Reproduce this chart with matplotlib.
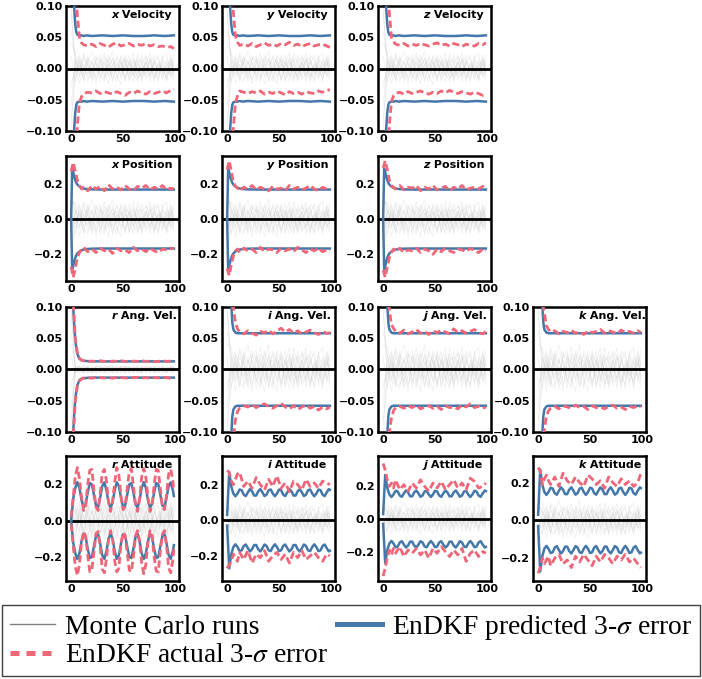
import numpy as np
import matplotlib
matplotlib.use('Agg')
import matplotlib.pyplot as plt
from matplotlib.lines import Line2D

plt.rcParams['font.family'] = 'DejaVu Sans'
plt.rcParams['mathtext.fontset'] = 'stix'

BLUE = '#4477AA'
RED = '#EE6677'

# ---- time grids ----
t_blue = [0, 1, 2, 3, 4, 5, 6, 8, 10, 12, 15, 20, 30, 40, 50, 60, 70, 80, 90, 99]
t_red = [0, 2, 4, 6, 8, 10, 12, 16, 20, 24, 28, 32, 36, 40, 44, 48, 52, 56, 60,
         64, 68, 72, 76, 80, 84, 88, 92, 96, 99]
t_att = list(range(0, 99, 2)) + [99]
t_mc = list(range(0, 97, 4)) + [99]

# ---- predicted 3-sigma (blue) ----
vel_blue = [0.40, 0.25, 0.14, 0.095, 0.07, 0.058, 0.054, 0.053, 0.053, 0.052, 0.053, 0.052,
            0.053, 0.052, 0.053, 0.052, 0.052, 0.053, 0.052, 0.053]
pos_blue = [0.0, 0.285, 0.265, 0.24, 0.22, 0.205, 0.195, 0.184, 0.177, 0.173, 0.170, 0.168,
            0.167, 0.167, 0.167, 0.167, 0.167, 0.167, 0.167, 0.167]
angr_blue = [0.40, 0.20, 0.10, 0.07, 0.048, 0.034, 0.025, 0.017, 0.015, 0.014, 0.0135, 0.013,
             0.013, 0.013, 0.013, 0.013, 0.013, 0.013, 0.013, 0.013]
angv_blue = [0.50, 0.35, 0.22, 0.15, 0.105, 0.075, 0.064, 0.059, 0.058, 0.058, 0.058, 0.058,
             0.058, 0.058, 0.058, 0.058, 0.058, 0.058, 0.058, 0.058]
attr_blue = [0.0, 0.12, 0.179, 0.21, 0.179, 0.113, 0.071, 0.091, 0.154, 0.205, 0.198, 0.14,
             0.082, 0.075, 0.126, 0.189, 0.209, 0.167, 0.101, 0.07, 0.101, 0.167, 0.209, 0.189,
             0.126, 0.075, 0.082, 0.14, 0.198, 0.205, 0.154, 0.091, 0.071, 0.113, 0.179, 0.21,
             0.179, 0.113, 0.071, 0.091, 0.154, 0.205, 0.198, 0.14, 0.082, 0.075, 0.126, 0.189,
             0.209, 0.167, 0.134]
att_blue = [0.03, 0.27, 0.19, 0.15, 0.135, 0.150, 0.173, 0.169, 0.144, 0.136, 0.157, 0.175,
            0.163, 0.139, 0.139, 0.163, 0.175, 0.157, 0.136, 0.144, 0.169, 0.173, 0.150, 0.135,
            0.150, 0.173, 0.169, 0.144, 0.136, 0.157, 0.175, 0.163, 0.139, 0.139, 0.163, 0.175,
            0.157, 0.136, 0.144, 0.169, 0.173, 0.150, 0.135, 0.150, 0.173, 0.169, 0.144, 0.136,
            0.157, 0.175, 0.171]

# ---- actual 3-sigma (red), upper and lower ----
velx_up = [0.40, 0.25, 0.15, 0.085, 0.05, 0.041, 0.038, 0.036, 0.039, 0.035, 0.040, 0.037, 0.034,
           0.039, 0.041, 0.036, 0.038, 0.040, 0.036, 0.039, 0.037, 0.040, 0.036, 0.038, 0.035,
           0.036, 0.034, 0.035, 0.032]
velx_lo = [-0.40, -0.30, -0.17, -0.09, -0.055, -0.045, -0.040, -0.038, -0.039, -0.036, -0.040,
           -0.037, -0.039, -0.041, -0.037, -0.040, -0.043, -0.038, -0.040, -0.036, -0.039, -0.041,
           -0.037, -0.040, -0.038, -0.036, -0.039, -0.035, -0.033]
vely_up = [0.40, 0.26, 0.16, 0.09, 0.052, 0.042, 0.037, 0.039, 0.036, 0.040, 0.035, 0.038, 0.041,
           0.037, 0.039, 0.036, 0.040, 0.038, 0.042, 0.037, 0.039, 0.035, 0.038, 0.040, 0.036,
           0.038, 0.039, 0.036, 0.034]
vely_lo = [-0.40, -0.28, -0.17, -0.095, -0.055, -0.044, -0.036, -0.038, -0.040, -0.037, -0.039,
           -0.036, -0.041, -0.038, -0.040, -0.036, -0.039, -0.042, -0.037, -0.040, -0.038, -0.041,
           -0.037, -0.039, -0.040, -0.036, -0.038, -0.035, -0.034]
velz_up = [0.40, 0.25, 0.15, 0.088, 0.05, 0.043, 0.039, 0.037, 0.040, 0.036, 0.039, 0.037, 0.040,
           0.038, 0.036, 0.039, 0.041, 0.037, 0.039, 0.036, 0.040, 0.038, 0.035, 0.039, 0.037,
           0.036, 0.040, 0.038, 0.041]
velz_lo = [-0.40, -0.27, -0.16, -0.09, -0.053, -0.044, -0.040, -0.038, -0.041, -0.037, -0.040,
           -0.038, -0.036, -0.039, -0.041, -0.038, -0.040, -0.036, -0.039, -0.035, -0.038, -0.040,
           -0.037, -0.039, -0.041, -0.038, -0.040, -0.043, -0.039]

posx_up = [0.27, 0.32, 0.27, 0.22, 0.19, 0.17, 0.18, 0.16, 0.19, 0.17, 0.185, 0.16, 0.195, 0.17,
           0.18, 0.165, 0.19, 0.17, 0.16, 0.185, 0.175, 0.19, 0.165, 0.18, 0.17, 0.19, 0.165,
           0.175, 0.17]
posx_lo = [-0.27, -0.33, -0.28, -0.22, -0.19, -0.175, -0.16, -0.185, -0.17, -0.19, -0.165, -0.18,
           -0.17, -0.195, -0.165, -0.18, -0.175, -0.19, -0.16, -0.18, -0.17, -0.185, -0.165,
           -0.18, -0.19, -0.17, -0.175, -0.165, -0.17]
posy_up = [0.28, 0.33, 0.27, 0.21, 0.185, 0.175, 0.16, 0.18, 0.17, 0.19, 0.165, 0.18, 0.17, 0.16,
           0.185, 0.17, 0.175, 0.16, 0.19, 0.17, 0.18, 0.165, 0.175, 0.19, 0.17, 0.16, 0.18,
           0.17, 0.165]
posy_lo = [-0.28, -0.32, -0.26, -0.21, -0.18, -0.17, -0.19, -0.165, -0.18, -0.17, -0.19, -0.16,
           -0.185, -0.17, -0.175, -0.19, -0.165, -0.18, -0.17, -0.185, -0.16, -0.175, -0.19,
           -0.17, -0.18, -0.165, -0.185, -0.175, -0.18]
posz_up = [0.29, 0.33, 0.28, 0.22, 0.19, 0.18, 0.17, 0.19, 0.165, 0.18, 0.175, 0.19, 0.16, 0.18,
           0.17, 0.19, 0.165, 0.175, 0.185, 0.16, 0.18, 0.17, 0.19, 0.165, 0.175, 0.18, 0.17,
           0.185, 0.17]
posz_lo = [-0.29, -0.33, -0.27, -0.22, -0.19, -0.17, -0.185, -0.165, -0.19, -0.175, -0.18, -0.165,
           -0.19, -0.17, -0.18, -0.2, -0.17, -0.185, -0.165, -0.18, -0.19, -0.17, -0.175, -0.185,
           -0.165, -0.18, -0.19, -0.17, -0.18]

angr_up = [0.40, 0.11, 0.05, 0.027, 0.018, 0.015, 0.014, 0.013, 0.0135, 0.013, 0.014, 0.013,
           0.0125, 0.0135, 0.013, 0.014, 0.013, 0.0125, 0.0135, 0.013, 0.014, 0.013, 0.0135,
           0.0125, 0.013, 0.014, 0.013, 0.0135, 0.013]
angr_lo = [-0.40, -0.11, -0.05, -0.027, -0.018, -0.015, -0.0135, -0.013, -0.014, -0.0125, -0.013,
           -0.0135, -0.013, -0.014, -0.0125, -0.013, -0.0135, -0.014, -0.013, -0.0125, -0.0135,
           -0.013, -0.014, -0.013, -0.0135, -0.0125, -0.013, -0.014, -0.013]
angi_up = [0.40, 0.25, 0.15, 0.10, 0.075, 0.065, 0.060, 0.057, 0.062, 0.058, 0.055, 0.061, 0.059,
           0.063, 0.057, 0.062, 0.066, 0.060, 0.064, 0.058, 0.062, 0.057, 0.060, 0.063, 0.059,
           0.056, 0.061, 0.058, 0.059]
angi_lo = [-0.40, -0.27, -0.16, -0.11, -0.08, -0.067, -0.062, -0.058, -0.060, -0.056, -0.061,
           -0.057, -0.055, -0.059, -0.062, -0.058, -0.054, -0.060, -0.063, -0.058, -0.064, -0.060,
           -0.057, -0.062, -0.059, -0.065, -0.060, -0.063, -0.060]
angj_up = [0.40, 0.24, 0.14, 0.095, 0.072, 0.066, 0.061, 0.058, 0.063, 0.057, 0.060, 0.064, 0.058,
           0.061, 0.056, 0.062, 0.059, 0.063, 0.060, 0.057, 0.065, 0.059, 0.062, 0.058, 0.061,
           0.064, 0.059, 0.057, 0.061]
angj_lo = [-0.40, -0.26, -0.15, -0.10, -0.078, -0.066, -0.061, -0.059, -0.062, -0.058, -0.061,
           -0.057, -0.063, -0.060, -0.058, -0.062, -0.059, -0.064, -0.058, -0.061, -0.060, -0.063,
           -0.057, -0.060, -0.055, -0.061, -0.059, -0.062, -0.060]
angk_up = [0.40, 0.20, 0.11, 0.09, 0.07, 0.064, 0.060, 0.062, 0.057, 0.061, 0.059, 0.063, 0.058,
           0.060, 0.056, 0.062, 0.059, 0.061, 0.064, 0.058, 0.062, 0.060, 0.057, 0.063, 0.059,
           0.061, 0.058, 0.062, 0.059]
angk_lo = [-0.40, -0.25, -0.14, -0.095, -0.075, -0.066, -0.062, -0.059, -0.063, -0.058, -0.060,
           -0.062, -0.057, -0.061, -0.059, -0.064, -0.058, -0.061, -0.060, -0.063, -0.059, -0.057,
           -0.062, -0.060, -0.064, -0.059, -0.061, -0.058, -0.060]

attr_up = [0.02, 0.13, 0.24, 0.29, 0.23, 0.13, 0.055, 0.08, 0.20, 0.275, 0.28, 0.165, 0.075, 0.055,
           0.15, 0.26, 0.28, 0.22, 0.10, 0.05, 0.11, 0.21, 0.29, 0.25, 0.14, 0.06, 0.075, 0.175,
           0.265, 0.285, 0.19, 0.09, 0.05, 0.12, 0.24, 0.285, 0.235, 0.125, 0.05, 0.085, 0.195,
           0.28, 0.275, 0.17, 0.07, 0.06, 0.145, 0.255, 0.28, 0.22, 0.16]
attr_lo = [-0.02, -0.14, -0.25, -0.30, -0.24, -0.12, -0.06, -0.085, -0.19, -0.28, -0.27, -0.17,
           -0.07, -0.06, -0.14, -0.265, -0.285, -0.21, -0.105, -0.055, -0.10, -0.22, -0.28, -0.26,
           -0.13, -0.065, -0.08, -0.17, -0.27, -0.28, -0.2, -0.085, -0.055, -0.115, -0.235, -0.29,
           -0.24, -0.12, -0.055, -0.08, -0.2, -0.275, -0.28, -0.165, -0.075, -0.055, -0.14, -0.26,
           -0.285, -0.215, -0.15]
atti_up = [0.28, 0.27, 0.22, 0.20, 0.23, 0.26, 0.27, 0.19, 0.22, 0.18, 0.24, 0.20, 0.17, 0.23,
           0.19, 0.25, 0.18, 0.21, 0.16, 0.22, 0.20, 0.17, 0.23, 0.19, 0.21, 0.18, 0.22, 0.21, 0.20]
atti_lo = [-0.27, -0.25, -0.23, -0.19, -0.21, -0.23, -0.18, -0.22, -0.17, -0.24, -0.19, -0.21,
           -0.17, -0.23, -0.20, -0.18, -0.22, -0.19, -0.24, -0.18, -0.21, -0.17, -0.22, -0.20,
           -0.18, -0.21, -0.23, -0.19, -0.20]
attj_up = [0.34, 0.30, 0.24, 0.20, 0.22, 0.19, 0.24, 0.18, 0.21, 0.17, 0.22, 0.19, 0.24, 0.20,
           0.17, 0.22, 0.19, 0.23, 0.18, 0.21, 0.24, 0.19, 0.22, 0.18, 0.25, 0.23, 0.19, 0.20, 0.22]
attj_lo = [-0.35, -0.30, -0.24, -0.19, -0.22, -0.18, -0.21, -0.17, -0.23, -0.19, -0.21, -0.18,
           -0.22, -0.19, -0.24, -0.18, -0.21, -0.17, -0.20, -0.23, -0.19, -0.22, -0.18, -0.26,
           -0.21, -0.19, -0.23, -0.20, -0.21]
attk_up = [0.28, 0.26, 0.19, 0.22, 0.24, 0.21, 0.19, 0.23, 0.18, 0.25, 0.21, 0.19, 0.23, 0.20,
           0.18, 0.24, 0.22, 0.19, 0.21, 0.17, 0.23, 0.20, 0.18, 0.22, 0.19, 0.21, 0.18, 0.20, 0.25]
attk_lo = [-0.28, -0.25, -0.20, -0.23, -0.21, -0.19, -0.24, -0.20, -0.18, -0.23, -0.21, -0.25,
           -0.19, -0.22, -0.18, -0.21, -0.24, -0.19, -0.22, -0.18, -0.20, -0.23, -0.19, -0.21,
           -0.18, -0.22, -0.20, -0.23, -0.25]

# ---- Monte Carlo runs (normalised error, read as fractions of the grey band) ----
mc_runs = [
    [0.9, 0.3, -0.4, 0.6, -0.2, 0.1, -0.7, 0.4, 0.2, -0.3, 0.5, -0.1, 0.3, -0.6, 0.2, 0.7, -0.2, 0.1, -0.4, 0.3, 0.5, -0.3, 0.1, -0.5, 0.2, 0.4],
    [-0.8, -0.5, 0.2, -0.3, 0.6, -0.4, 0.1, -0.2, 0.5, 0.3, -0.6, 0.2, -0.4, 0.1, 0.6, -0.3, 0.2, -0.5, 0.3, -0.1, 0.2, 0.6, -0.4, 0.3, -0.2, -0.5],
    [0.4, 0.7, 0.1, -0.5, 0.3, 0.8, 0.2, -0.3, -0.6, 0.1, 0.4, -0.2, 0.6, 0.3, -0.5, 0.1, 0.5, -0.3, 0.2, 0.7, -0.4, 0.1, 0.3, -0.2, 0.6, 0.1],
    [-0.3, 0.1, -0.7, 0.2, -0.5, -0.1, 0.4, 0.6, -0.2, -0.7, 0.1, 0.5, -0.3, 0.2, -0.1, -0.6, 0.3, 0.4, -0.5, -0.2, 0.1, -0.6, 0.4, 0.2, -0.3, 0.2],
    [1.0, -0.2, 0.5, 0.1, -0.3, 0.4, -0.5, 0.2, 0.7, -0.1, -0.3, 0.6, 0.2, -0.5, 0.4, -0.2, -0.6, 0.3, 0.5, -0.4, 0.3, -0.1, 0.5, 0.7, -0.4, 0.0],
    [-0.6, 0.4, -0.1, 0.7, 0.2, -0.6, -0.2, 0.5, -0.4, 0.3, 0.8, -0.5, 0.1, 0.4, -0.3, 0.5, -0.1, -0.4, 0.6, 0.1, -0.5, 0.3, -0.2, 0.1, 0.4, -0.3],
    [0.2, -0.6, 0.3, -0.1, 0.5, 0.2, 0.6, -0.4, 0.1, 0.5, -0.2, -0.6, 0.4, -0.1, 0.3, -0.4, 0.7, 0.2, -0.3, 0.5, -0.6, 0.2, -0.5, 0.4, 0.1, 0.6],
    [-1.0, 0.2, 0.6, -0.4, -0.6, 0.3, -0.1, 0.1, -0.5, 0.6, 0.2, -0.3, -0.7, 0.5, 0.2, -0.1, 0.4, -0.6, 0.1, -0.3, 0.6, 0.4, -0.1, -0.4, 0.5, -0.2],
    [0.6, 0.5, -0.3, 0.4, 0.1, -0.2, 0.3, -0.6, 0.4, -0.4, 0.2, 0.3, -0.1, 0.6, -0.6, 0.3, -0.4, 0.6, -0.1, 0.4, -0.2, -0.5, 0.6, -0.3, -0.1, 0.3],
    [-0.2, -0.3, 0.4, -0.6, 0.4, -0.5, 0.5, 0.3, -0.1, 0.2, -0.5, 0.1, 0.5, -0.4, 0.1, 0.4, -0.5, -0.1, 0.3, -0.6, 0.4, -0.2, 0.2, -0.6, 0.3, -0.4],
]

vel_ticks = [-0.10, -0.05, 0.00, 0.05, 0.10]
pos_ticks = [-0.2, 0.0, 0.2]

# row, col, letter, name, blue (t, up), red (t, up, lo), mc (scale, start), ylim, yticks
panels = [
    (0, 0, 'x', 'Velocity', t_blue, vel_blue, t_red, velx_up, velx_lo, 0.035, 0.1, (-0.1, 0.1), vel_ticks),
    (0, 1, 'y', 'Velocity', t_blue, vel_blue, t_red, vely_up, vely_lo, 0.035, 0.1, (-0.1, 0.1), vel_ticks),
    (0, 2, 'z', 'Velocity', t_blue, vel_blue, t_red, velz_up, velz_lo, 0.035, 0.1, (-0.1, 0.1), vel_ticks),
    (1, 0, 'x', 'Position', t_blue, pos_blue, t_red, posx_up, posx_lo, 0.14, 0.2, (-0.351, 0.357), pos_ticks),
    (1, 1, 'y', 'Position', t_blue, pos_blue, t_red, posy_up, posy_lo, 0.14, 0.2, (-0.351, 0.357), pos_ticks),
    (1, 2, 'z', 'Position', t_blue, pos_blue, t_red, posz_up, posz_lo, 0.14, 0.2, (-0.351, 0.357), pos_ticks),
    (2, 0, 'r', 'Ang. Vel.', t_blue, angr_blue, t_red, angr_up, angr_lo, 0.01, 0.1, (-0.1, 0.1), vel_ticks),
    (2, 1, 'i', 'Ang. Vel.', t_blue, angv_blue, t_red, angi_up, angi_lo, 0.05, 0.1, (-0.1, 0.1), vel_ticks),
    (2, 2, 'j', 'Ang. Vel.', t_blue, angv_blue, t_red, angj_up, angj_lo, 0.05, 0.1, (-0.1, 0.1), vel_ticks),
    (2, 3, 'k', 'Ang. Vel.', t_blue, angv_blue, t_red, angk_up, angk_lo, 0.05, 0.1, (-0.1, 0.1), vel_ticks),
    (3, 0, 'r', 'Attitude', t_att, attr_blue, t_att, attr_up, attr_lo, 0.17, 0.1, (-0.33, 0.353), pos_ticks),
    (3, 1, 'i', 'Attitude', t_att, att_blue, t_red, atti_up, atti_lo, 0.13, 0.1, (-0.341, 0.361), pos_ticks),
    (3, 2, 'j', 'Attitude', t_att, att_blue, t_red, attj_up, attj_lo, 0.13, 0.1, (-0.38, 0.386), pos_ticks),
    (3, 3, 'k', 'Attitude', t_att, att_blue, t_red, attk_up, attk_lo, 0.13, 0.1, (-0.321, 0.341), pos_ticks),
]

W, H = 702, 679
col_left = [66, 222, 378, 533]
row_top = [6, 156, 307, 456]
aw, ah = 113, 125

fig = plt.figure(figsize=(W / 100, H / 100), dpi=100)

for (r, c, letter, name, bt, bu, rt, ru, rl, mcs, mc0, ylim, yt) in panels:
    ax = fig.add_axes([col_left[c] / W, 1 - (row_top[r] + ah) / H, aw / W, ah / H])
    env = np.full(len(t_mc), mcs)
    env[0] = mc0
    for run in mc_runs:
        ax.plot(t_mc, np.array(run) * env, color='0.6', lw=0.6, alpha=0.15, zorder=1)
    ax.axhline(0, color='k', lw=2, zorder=3)
    ax.plot(bt, bu, color=BLUE, lw=1.8, zorder=4)
    ax.plot(bt, -np.array(bu), color=BLUE, lw=1.8, zorder=4)
    ax.plot(rt, ru, color=RED, lw=2.0, ls=(0, (2.6, 1.3)), zorder=5)
    ax.plot(rt, rl, color=RED, lw=2.0, ls=(0, (2.6, 1.3)), zorder=5)
    ax.set_xlim(-4.95, 103.95)
    ax.set_ylim(ylim)
    ax.set_xticks([0, 50, 100])
    ax.set_yticks(yt)
    ax.tick_params(length=0, pad=2.2, labelsize=8)
    for lbl in ax.get_xticklabels() + ax.get_yticklabels():
        lbl.set_fontweight('bold')
    for sp in ax.spines.values():
        sp.set_linewidth(1.8)
    t1 = ax.text(0.40, 0.965, letter, transform=ax.transAxes, ha='left', va='top',
                 fontsize=8, fontweight='bold', fontstyle='italic', clip_on=True, zorder=2)
    ax.annotate(' ' + name, xy=(1, 0), xycoords=t1, ha='left', va='bottom',
                fontsize=8, fontweight='bold', annotation_clip=False, clip_on=True, zorder=2)

handles = [Line2D([], [], color='0.5', lw=1),
           Line2D([], [], color=RED, lw=3.6, ls=(0, (1.8, 1.4))),
           Line2D([], [], color=BLUE, lw=3.6)]
labels = ['Monte Carlo runs', r'EnDKF actual 3-$\sigma$ error', r'EnDKF predicted 3-$\sigma$ error']
leg = fig.legend(handles, labels, loc='lower center', bbox_to_anchor=(0.5, 3 / H),
                 ncol=2, prop={'family': 'Liberation Serif', 'size': 19.8},
                 frameon=True, fancybox=False, edgecolor='0.25', framealpha=1, borderaxespad=0,
                 handlelength=1.63, handletextpad=0.37, columnspacing=0.3, labelspacing=0.12,
                 borderpad=0.28)
leg.get_frame().set_linewidth(1.0)

fig.savefig('out.png', dpi=100)
